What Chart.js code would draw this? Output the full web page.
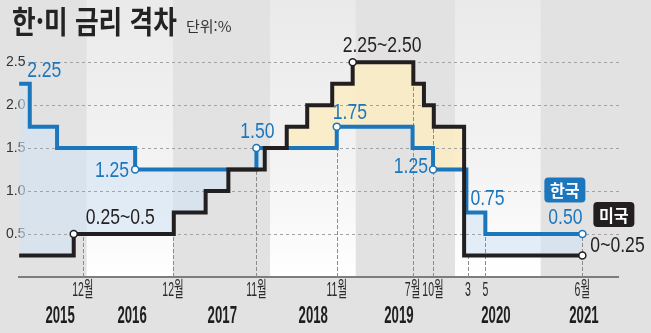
<!DOCTYPE html>
<html lang="ko">
<head>
<meta charset="utf-8">
<title>한·미 금리 격차</title>
<script src="https://cdn.jsdelivr.net/npm/chart.js@4.4.1/dist/chart.umd.min.js"></script>
<style>
  html, body { margin: 0; padding: 0; background: #e2e2e2; }
  #wrap { position: relative; width: 651px; height: 333px; overflow: hidden; }
  #rateChart { position: absolute; left: 0; top: 0; }
  #title {
    position: absolute; left: 12px; top: 4px;
    font-family: "Noto Sans CJK KR", sans-serif; font-weight: 700;
    font-size: 31px; line-height: 31px; color: #232323;
    transform: scaleX(0.83); transform-origin: left top; white-space: nowrap;
  }
  #unit {
    position: absolute; left: 186px; top: 18px;
    font-family: "Noto Sans CJK KR", sans-serif; font-size: 15px; line-height: 15px;
    color: #333; white-space: nowrap;
  }
</style>
</head>
<body>
<div id="wrap">
  <canvas id="rateChart" width="651" height="333"></canvas>
  <div id="title">한·미 금리 격차</div>
  <div id="unit">단위:%</div>
</div>
<script>
// x values are months counted from January 2015
var koreaMonths = [2.7, 4.1, 7.7, 18.0, 34.0, 44.6, 54.6, 57.3, 61.7, 64.2, 77.0];
var koreaRates  = [2.25, 1.75, 1.5, 1.25, 1.5, 1.75, 1.5, 1.25, 0.75, 0.5, 0.5];

// US target range, drawn at its upper bound
var usMonths = [2.7, 9.9, 23.1, 27.3, 30.3, 35.1, 38.0, 40.7, 44.0, 46.7, 54.7, 56.1, 57.4, 61.4, 77.0];
var usRates  = [0.25, 0.5, 0.75, 1.0, 1.25, 1.5, 1.75, 2.0, 2.25, 2.5, 2.25, 2.0, 1.75, 0.25, 0.25];

var monthTicks  = [11.1, 23.0, 34.0, 44.6, 54.6, 57.3, 61.9, 64.2, 77.0];
var monthLabels = ["12월", "12월", "11월", "11월", "7월", "10월", "3", "5", "6월"];
var guideTops   = [0.5, 0.5, 1.5, 1.75, 2.25, 1.75, 0.25, 0.5, 0.5];

var yearTicks  = [8.1, 17.6, 29.5, 41.5, 52.8, 65.6, 77.2];
var yearLabels = ["2015", "2016", "2017", "2018", "2019", "2020", "2021"];

var rateTicks = [0.5, 1.0, 1.5, 2.0, 2.5];

var BLUE = "#1c76bc";
var BLACK = "#231f20";
var SANS = "'Liberation Sans', 'Noto Sans CJK KR', sans-serif";

function toPoints(xs, ys) {
  return xs.map(function (x, i) { return { x: x, y: ys[i] }; });
}

function markerRadius(count, marked) {
  var r = [];
  for (var i = 0; i < count; i++) r.push(marked.indexOf(i) >= 0 ? 3.5 : 0);
  return r;
}

// narrow type: draw text squeezed horizontally around its anchor
function squeezedText(ctx, text, x, y, squeeze, align) {
  ctx.save();
  ctx.translate(x, y);
  ctx.scale(squeeze, 1);
  ctx.textAlign = align || "center";
  ctx.fillText(text, 0, 0);
  ctx.restore();
}

// shaded year columns behind the chart
var bandsPlugin = {
  id: "bands",
  beforeDraw: function (chart) {
    var ctx = chart.ctx, xs = chart.scales.x, area = chart.chartArea;
    ctx.save();
    ctx.fillStyle = "#e2e2e2";
    ctx.fillRect(0, 0, chart.width, chart.height);
    var grad = ctx.createLinearGradient(0, 0, 0, area.bottom);
    grad.addColorStop(0, "#eaeaea");
    grad.addColorStop(0.6, "#f3f3f3");
    grad.addColorStop(1, "#ffffff");
    ctx.fillStyle = grad;
    [[11.6, 23.0], [35.8, 47.1], [60.2, 71.5]].forEach(function (b) {
      var l = xs.getPixelForValue(b[0]), r = xs.getPixelForValue(b[1]);
      ctx.fillRect(l, 0, r - l, area.bottom);
    });
    ctx.restore();
  }
};

// dashed grid and the dotted guides over each month tick
var guidesPlugin = {
  id: "guides",
  beforeDatasetsDraw: function (chart) {
    var ctx = chart.ctx, xs = chart.scales.x, ys = chart.scales.y, area = chart.chartArea;
    ctx.save();
    ctx.lineWidth = 1;
    ctx.strokeStyle = "#a3a3a3";
    ctx.setLineDash([3, 3]);
    rateTicks.forEach(function (v) {
      var py = Math.round(ys.getPixelForValue(v)) + 0.5;
      ctx.beginPath();
      ctx.moveTo(area.left + 9, py);
      ctx.lineTo(area.right + 2, py);
      ctx.stroke();
    });
    ctx.strokeStyle = "#8c8c8c";
    ctx.setLineDash([4, 2]);
    monthTicks.forEach(function (m, i) {
      var px = Math.round(xs.getPixelForValue(m)) + 0.5;
      ctx.beginPath();
      ctx.moveTo(px, area.bottom);
      ctx.lineTo(px, ys.getPixelForValue(guideTops[i]));
      ctx.stroke();
    });
    ctx.restore();
  }
};

var valueLabels = [
  { ds: 0, i: 0,  text: "2.25",      dx: 8,   dy: -13, align: "left" },
  { ds: 0, i: 3,  text: "1.25",      dx: -6,  dy: 1,   align: "right" },
  { ds: 1, i: 1,  text: "0.25~0.5",  dx: 12,  dy: -16, align: "left" },
  { ds: 0, i: 4,  text: "1.50",      dx: 1,   dy: -16, align: "center" },
  { ds: 1, i: 9,  text: "2.25~2.50", dx: -10, dy: -16, align: "left" },
  { ds: 0, i: 5,  text: "1.75",      dx: -4,  dy: -14, align: "left" },
  { ds: 0, i: 7,  text: "1.25",      dx: -5,  dy: -3,  align: "right" },
  { ds: 0, i: 8,  text: "0.75",      dx: 4,   dy: -14, align: "left" },
  { ds: 0, i: 10, text: "0.50",      dx: -17, dy: -16, align: "center" },
  { ds: 1, i: 14, text: "0~0.25",    dx: 8,   dy: -10, align: "left" }
];

var nameTags = [
  { ds: 0, i: 10, text: "한국", dx: -17.5, dy: -44, color: BLUE },
  { ds: 1, i: 14, text: "미국", dx: 31.5,  dy: -41, color: BLACK }
];

var labelsPlugin = {
  id: "rateLabels",
  afterDatasetsDraw: function (chart) {
    var ctx = chart.ctx, xs = chart.scales.x, area = chart.chartArea;
    ctx.save();
    ctx.textBaseline = "middle";

    ctx.font = "22px " + SANS;
    valueLabels.forEach(function (l) {
      var pt = chart.getDatasetMeta(l.ds).data[l.i];
      ctx.fillStyle = l.ds === 0 ? BLUE : BLACK;
      squeezedText(ctx, l.text, pt.x + l.dx, pt.y + l.dy, 0.8, l.align);
    });

    nameTags.forEach(function (t) {
      var pt = chart.getDatasetMeta(t.ds).data[t.i];
      var cx = pt.x + t.dx, cy = pt.y + t.dy;
      ctx.fillStyle = t.color;
      ctx.beginPath();
      ctx.roundRect(cx - 20.5, cy - 12.5, 41, 25, 4);
      ctx.fill();
      ctx.fillStyle = "#ffffff";
      ctx.font = "bold 17px 'Noto Sans CJK KR', sans-serif";
      squeezedText(ctx, t.text, cx, cy + 1, 0.95);
    });

    // month and year rows under the baseline
    ctx.fillStyle = "#2b2b2b";
    ctx.font = "21px " + SANS;
    monthTicks.forEach(function (m, i) {
      squeezedText(ctx, monthLabels[i], xs.getPixelForValue(m), area.bottom + 13, 0.5);
    });
    ctx.fillStyle = "#1e1e1e";
    ctx.font = "bold 24px " + SANS;
    yearTicks.forEach(function (m, i) {
      squeezedText(ctx, yearLabels[i], xs.getPixelForValue(m), area.bottom + 39, 0.55);
    });
    ctx.restore();
  }
};

function showChart() {
  new Chart(document.getElementById("rateChart"), {
    type: "line",
    data: {
      datasets: [{
        label: "한국",
        data: toPoints(koreaMonths, koreaRates),
        stepped: true,
        borderColor: BLUE,
        borderWidth: 4,
        borderCapStyle: "butt",
        borderJoinStyle: "miter",
        pointRadius: markerRadius(koreaMonths.length, [3, 4, 5, 7, 10]),
        pointBackgroundColor: "#ffffff",
        pointBorderColor: BLUE,
        pointBorderWidth: 1.5,
        fill: { target: 1, above: "rgba(212,227,244,0.62)", below: "rgba(250,236,195,0.85)" },
        order: 1
      }, {
        label: "미국",
        data: toPoints(usMonths, usRates),
        stepped: true,
        borderColor: BLACK,
        borderWidth: 4,
        borderCapStyle: "butt",
        borderJoinStyle: "miter",
        pointRadius: markerRadius(usMonths.length, [1, 9, 14]),
        pointBackgroundColor: "#ffffff",
        pointBorderColor: BLACK,
        pointBorderWidth: 1.5,
        fill: false,
        order: 0
      }]
    },
    options: {
      responsive: false,
      animation: false,
      devicePixelRatio: 1,
      layout: { padding: { left: 0, right: 33, top: 45, bottom: 56 } },
      scales: {
        x: {
          type: "linear",
          min: 2.68,
          max: 81.7,
          afterBuildTicks: function (s) { s.ticks = monthTicks.map(function (v) { return { value: v }; }); },
          ticks: { display: false },
          grid: { display: false, drawTicks: false },
          border: { display: true, color: "#7d7d7d", width: 2 }
        },
        y: {
          min: 0,
          max: 2.7,
          afterBuildTicks: function (s) { s.ticks = rateTicks.map(function (v) { return { value: v }; }); },
          afterFit: function (s) { s.width = 19; },
          grid: { display: false, drawTicks: false },
          border: { display: false },
          ticks: {
            mirror: true,
            padding: -13,
            color: "#333333",
            font: { family: SANS, size: 14 },
            callback: function (v) { return v.toFixed(1); }
          },
          z: 1
        }
      },
      plugins: {
        legend: { display: false },
        tooltip: { enabled: false },
        filler: { drawTime: "beforeDatasetsDraw" }
      }
    },
    plugins: [bandsPlugin, guidesPlugin, labelsPlugin]
  });
}

window.addEventListener("load", showChart);
</script>
</body>
</html>
